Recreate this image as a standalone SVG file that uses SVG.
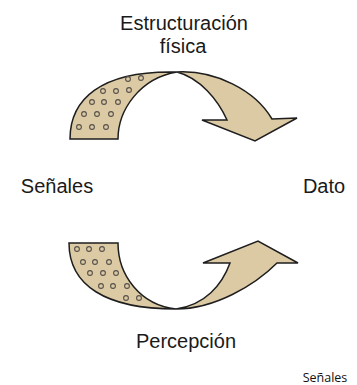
<svg xmlns="http://www.w3.org/2000/svg" width="357" height="385" viewBox="0 0 357 385">
<style>
.shape{fill:#dccaa5;stroke:#1e1e1e;stroke-width:1.5;stroke-linejoin:miter}
.dot{fill:none;stroke:#55504a;stroke-width:1.1}
.lbl{font-family:"Liberation Sans",Arial,sans-serif;font-size:20px;fill:#1a1a1a;text-anchor:middle}
.cap{font-family:"Open Sans","Noto Sans",sans-serif;font-size:12.5px;fill:#111;text-anchor:middle}
</style>
<rect width="357" height="385" fill="#fff"/>
<g id="connectors">
<g id="arrow-top">
<path class="shape" d="M70,139 C70,100 100,70 177,72 C140,78 118,110 118,139 Z"/>
<g class="dot">
<circle cx="128" cy="79" r="2.4"/><circle cx="141" cy="78" r="2.4"/>
<circle cx="103" cy="91" r="2.4"/><circle cx="116" cy="91" r="2.4"/><circle cx="129" cy="90" r="2.4"/>
<circle cx="92" cy="102" r="2.4"/><circle cx="104" cy="102" r="2.4"/><circle cx="118" cy="102" r="2.4"/>
<circle cx="84" cy="114" r="2.4"/><circle cx="97" cy="114" r="2.4"/><circle cx="111" cy="114" r="2.4"/>
<circle cx="79" cy="127" r="2.4"/><circle cx="92" cy="127" r="2.4"/><circle cx="106" cy="127" r="2.4"/>
</g>
<path class="shape" d="M177,72 C215,70 255,90 272,119 L297,118 L255,141 L202,120 L227,120 C218,100 200,78 177,72 Z"/>
</g>
<g id="arrow-bottom">
<path class="shape" d="M69,243 C69,285 105,309 176,309 C140,305 118,275 118,243 Z"/>
<g class="dot">
<circle cx="77" cy="249" r="2.4"/><circle cx="89" cy="249" r="2.4"/><circle cx="102" cy="249" r="2.4"/>
<circle cx="83" cy="262" r="2.4"/><circle cx="95" cy="262" r="2.4"/><circle cx="109" cy="262" r="2.4"/>
<circle cx="90" cy="273" r="2.4"/><circle cx="103" cy="273" r="2.4"/><circle cx="116" cy="273" r="2.4"/>
<circle cx="101" cy="286" r="2.4"/><circle cx="113" cy="286" r="2.4"/><circle cx="127" cy="286" r="2.4"/>
<circle cx="126" cy="298" r="2.4"/><circle cx="139" cy="298" r="2.4"/>
</g>
<path class="shape" d="M176,309 C215,309 255,285 277,263 L298,263 L258,241 L203,263 L230,263 C222,285 205,305 176,309 Z"/>
</g>
</g>
<g id="node-estructuracion">
<text class="lbl" x="184" y="30">Estructuración</text>
<text class="lbl" x="183" y="53">física</text>
</g>
<g id="node-senales"><text class="lbl" x="57" y="193">Señales</text></g>
<g id="node-dato"><text class="lbl" x="324" y="193">Dato</text></g>
<g id="node-percepcion"><text class="lbl" x="186" y="348">Percepción</text></g>
<text class="cap" x="325" y="382">Señales</text>
</svg>
